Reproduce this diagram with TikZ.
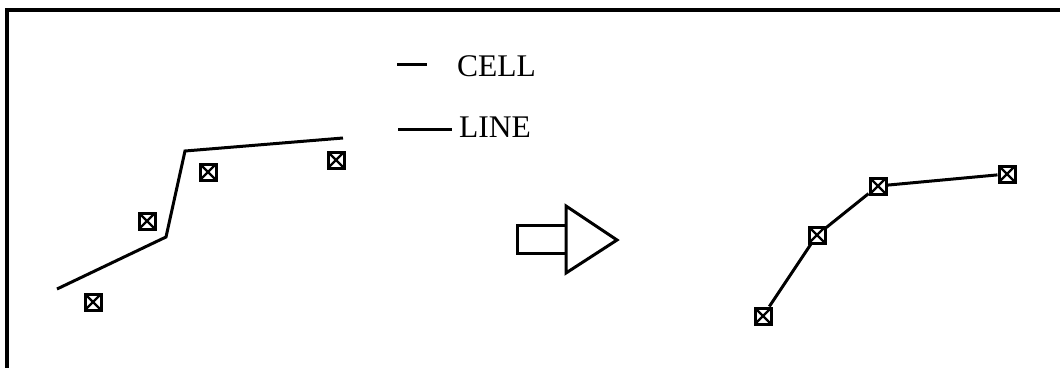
\documentclass[tikz,border=0pt]{standalone}
\usepackage{fontspec}
\setmainfont{Liberation Serif}
\begin{document}
\begin{tikzpicture}[x=1pt,y=-1pt,
  cellbox/.style={draw,line width=3pt,fill=white,minimum size=16pt,inner sep=0pt,
    path picture={\draw[line width=2.2pt] (path picture bounding box.north west) -- (path picture bounding box.south east)
      (path picture bounding box.north east) -- (path picture bounding box.south west);}},
  thickline/.style={line width=3pt},
  frameline/.style={line width=4pt},
  legendtext/.style={anchor=base west,inner sep=0pt,font=\fontsize{31.5}{36}\selectfont}]
\useasboundingbox (0,0) rectangle (1060,367);
% frame
\coordinate (f1) at (7,367);
\coordinate (f2) at (7,10);
\coordinate (f3) at (1060,10);
\draw[frameline,line cap=rect] (f1) -- (f2) -- (f3);
% legend
\coordinate (d1a) at (397,64);
\coordinate (d1b) at (427,64);
\draw[thickline] (d1a) -- (d1b);
\node[legendtext] (cell) at (457,76) {CELL};
\coordinate (d2a) at (398,129);
\coordinate (d2b) at (452,129);
\draw[thickline] (d2a) -- (d2b);
\node[legendtext] (line) at (459,137) {LINE};
% left polyline
\coordinate (p1) at (57,289);
\coordinate (p2) at (166,237);
\coordinate (p3) at (185,151);
\coordinate (p4) at (343,138);
\draw[thickline,line join=miter] (p1) -- (p2) -- (p3) -- (p4);
\node[cellbox] (c1) at (93,302) {};
\node[cellbox] (c2) at (147,221) {};
\node[cellbox] (c3) at (208,172) {};
\node[cellbox] (c4) at (336,160) {};
% arrow
\coordinate (r1) at (517,225);
\coordinate (r2) at (566,253);
\coordinate (t1) at (566,206);
\coordinate (t2) at (617,240);
\coordinate (t3) at (566,273);
\draw[thickline] (r1) rectangle (r2);
\draw[thickline,fill=white,line join=miter] (t1) -- (t2) -- (t3) -- cycle;
% right polyline
\node[cellbox] (a) at (763,316) {};
\node[cellbox] (b) at (817,235) {};
\node[cellbox] (c) at (878,186) {};
\node[cellbox] (d) at (1007,174) {};
\draw[thickline] (a) -- (b) -- (c) -- (d);
\end{tikzpicture}
\end{document}
